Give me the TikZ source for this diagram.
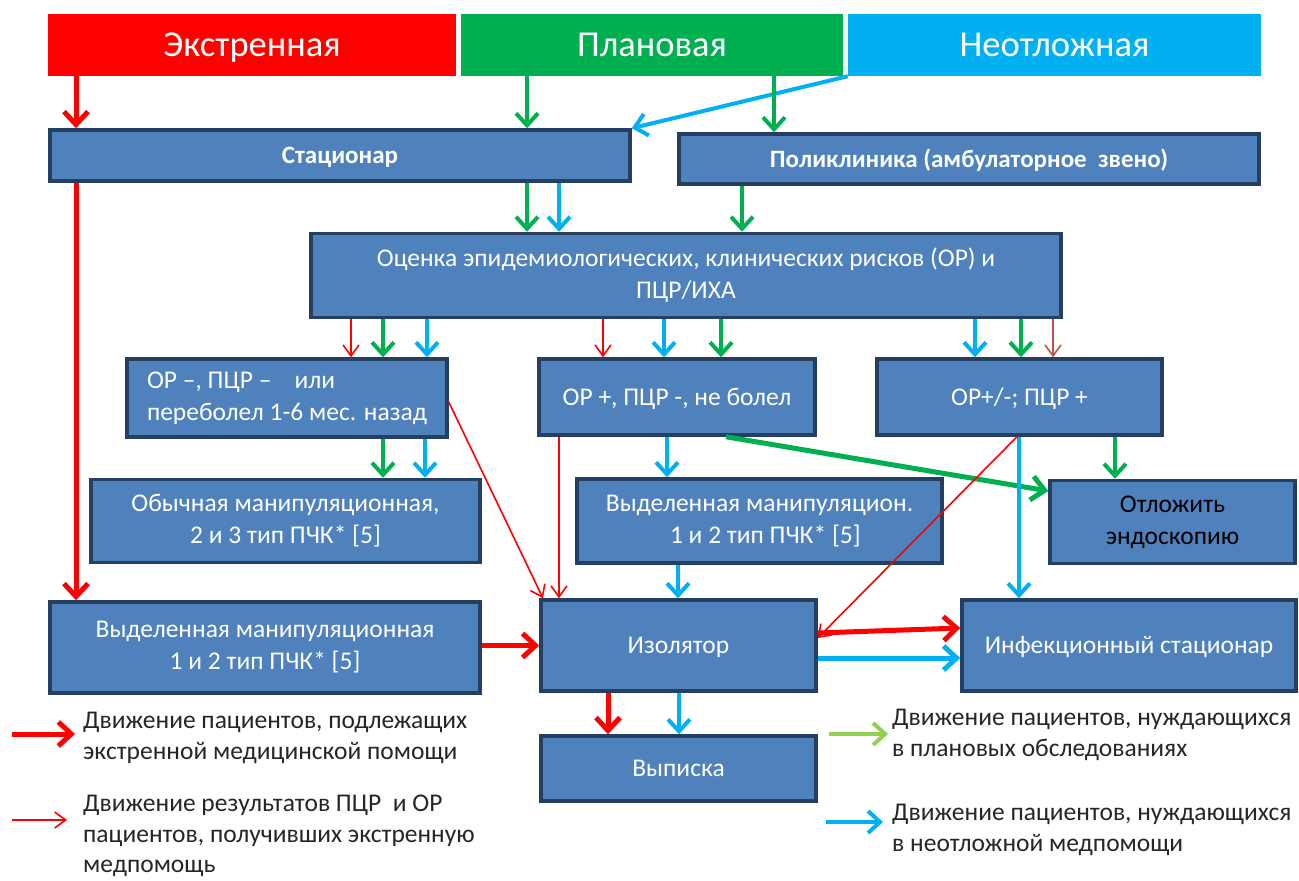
\documentclass[tikz,border=0pt]{standalone}
\usepackage{fontspec}
\setmainfont{Carlito}
\usetikzlibrary{arrows.meta}
\definecolor{cRed}{HTML}{FF0000}
\definecolor{cGreen}{HTML}{00B050}
\definecolor{cCyan}{HTML}{00B0F0}
\definecolor{cLGreen}{HTML}{92D050}
\definecolor{cBrown}{HTML}{C0504D}
\definecolor{boxFill}{HTML}{4F81BD}
\definecolor{boxLine}{HTML}{243F60}
\tikzset{
  hdr/.style={fill=#1, draw=none, text=white, inner sep=0pt, text height=23pt, text depth=0pt, font=\fontsize{36.5}{42}\selectfont},
  box/.style={fill=boxFill, draw=boxLine, line width=3.5pt, text=white, inner sep=2pt, align=center, font=\fontsize{25.5}{32}\selectfont},
  one/.style={text height=16pt, text depth=0pt},
  bbox/.style={box, one, font=\bfseries\fontsize{25}{30}\selectfont},
  legtext/.style={anchor=west, align=left, inner sep=0pt, text=black!85, font=\fontsize{25.5}{30.5}\selectfont},
  thk/.style={draw=#1, line width=5pt, -{Straight Barb[length=13pt,width=24pt]}},
  mid/.style={draw=#1, line width=4pt, -{Straight Barb[length=12pt,width=22pt]}},
  thn/.style={draw=#1, line width=1.6pt, -{Straight Barb[length=11pt,width=16pt]}},
}
\begin{document}
\begin{tikzpicture}[x=1pt,y=-1pt]
\useasboundingbox[fill=white] (0,0) rectangle (1299,881);
% headers
\node[hdr=cRed, minimum width=408, minimum height=62] (hE) at (252,45) {Экстренная};
\node[hdr=cGreen, minimum width=382, minimum height=62] (hP) at (652,45) {Плановая};
\node[hdr=cCyan, minimum width=413, minimum height=62] (hN) at (1054.5,45) {Неотложная};
% boxes
\node[bbox, minimum width=580, minimum height=51] (stac) at (340,155.5) {Стационар};
\node[bbox, minimum width=580, minimum height=50] (poli) at (969,159) {Поликлиника (амбулаторное\ \ звено)};
\node[box, minimum width=750, minimum height=84] (ocen) at (686,275.5) {Оценка эпидемиологических, клинических рисков (ОР) и\\ПЦР/ИХА};
\node[box, minimum width=320, minimum height=78, align=left] (orm) at (287,398) {ОР –, ПЦР –\ \ \ \ или\\переболел 1-6 мес. назад};
\node[box, one, minimum width=276, minimum height=76] (orp) at (677,397) {ОР +, ПЦР -, не болел};
\node[box, one, minimum width=285, minimum height=76] (orpm) at (1019.5,397) {ОР+/-; ПЦР +};
\node[box, minimum width=389, minimum height=83] (obych) at (285.5,521) {Обычная манипуляционная,\\2 и 3 тип ПЧК* [5]};
\node[box, minimum width=365, minimum height=84] (vydm) at (759.5,521) {Выделенная манипуляцион.\\\ \ 1 и 2 тип ПЧК* [5]};
\node[box, minimum width=245, minimum height=83, text=black] (otl) at (1172.5,522) {Отложить\\эндоскопию};
\node[box, minimum width=430, minimum height=91] (vydl) at (265,647.5) {Выделенная манипуляционная\\1 и 2 тип ПЧК* [5]};
\node[box, one, minimum width=275, minimum height=91] (izol) at (678.5,645.5) {Изолятор};
\node[box, one, minimum width=334, minimum height=91] (infe) at (1129,645.5) {Инфекционный стационар};
\node[box, one, minimum width=275, minimum height=65] (vyp) at (678.5,768.5) {Выписка};
% top connectors
\draw[thk=cRed] (76,0 |- hE.south) -- (76,0 |- stac.north);
\draw[mid=cGreen] (527,0 |- hP.south) -- (527,0 |- stac.north);
\draw[mid=cCyan] (hN.south west) -- (stac.north east);
\draw[mid=cGreen] (774,0 |- hP.south) -- (774,0 |- poli.north);
\draw[mid=cGreen] (527,0 |- stac.south) -- (527,0 |- ocen.north);
\draw[mid=cCyan] (559,0 |- stac.south) -- (559,0 |- ocen.north);
\draw[mid=cGreen] (742,0 |- poli.south) -- (742,0 |- ocen.north);
\draw[thk=cRed] (76,0 |- stac.south) -- (76,0 |- vydl.north);
% from ocen
\draw[thn=cRed] (351,0 |- ocen.south) -- (351,0 |- orm.north);
\draw[mid=cGreen] (383,0 |- ocen.south) -- (383,0 |- orm.north);
\draw[mid=cCyan] (427,0 |- ocen.south) -- (427,0 |- orm.north);
\draw[thn=cRed] (603,0 |- ocen.south) -- (603,0 |- orp.north);
\draw[mid=cCyan] (664,0 |- ocen.south) -- (664,0 |- orp.north);
\draw[mid=cGreen] (721,0 |- ocen.south) -- (721,0 |- orp.north);
\draw[mid=cCyan] (975,0 |- ocen.south) -- (975,0 |- orpm.north);
\draw[mid=cGreen] (1021,0 |- ocen.south) -- (1021,0 |- orpm.north);
\draw[thn=cBrown] (1053,0 |- ocen.south) -- (1053,0 |- orpm.north);
% from orm
\draw[mid=cGreen] (383,0 |- orm.south) -- (383,0 |- obych.north);
\draw[mid=cCyan] (425,0 |- orm.south) -- (425,0 |- obych.north);
\draw[thn=cRed] (orm.east |- 0,402) -- (543,0 |- izol.north);
% from orp
\draw[thn=cRed] (559,0 |- orp.south) -- (559,0 |- izol.north);
\draw[mid=cCyan] (667,0 |- orp.south) -- (667,0 |- vydm.north);
\draw[thk=cGreen] (726,0 |- orp.south) -- (otl.west |- 0,491);
% from orpm
\draw[mid=cGreen] (1115,0 |- orpm.south) -- (1115,0 |- otl.north);
\draw[mid=cCyan] (1019,0 |- orpm.south) -- (1019,0 |- infe.north);
\draw[thn=cRed] (1017,0 |- orpm.south) -- (izol.east |- 0,638);
% lower
\draw[mid=cCyan] (678,0 |- vydm.south) -- (678,0 |- izol.north);
\draw[thk=cRed] (vydl.east |- izol.west) -- (izol.west);
\draw[thk=cRed] (izol.east |- 0,633) -- (infe.west |- 0,628);
\draw[thk=cCyan] (izol.east |- 0,658) -- (infe.west |- 0,658);
\draw[thk=cRed] (608,0 |- izol.south) -- (608,0 |- vyp.north);
\draw[mid=cCyan] (679,0 |- izol.south) -- (679,0 |- vyp.north);
% legend
\node[legtext] (t1) at (83,738) {Движение пациентов, подлежащих\\экстренной медицинской помощи};
\node[legtext] (t2) at (83,836) {Движение результатов ПЦР\ \ и ОР\\пациентов, получивших экстренную\\медпомощь};
\node[legtext] (t3) at (892,735) {Движение пациентов, нуждающихся\\в плановых обследованиях};
\node[legtext] (t4) at (892,830) {Движение пациентов, нуждающихся\\в неотложной медпомощи};
\coordinate (l1) at (12,734);
\coordinate (l2) at (12,820);
\coordinate (l3) at (829,734);
\coordinate (l4) at (826,822);
\draw[thk=cRed] (l1) -- (75,0 |- l1);
\draw[thn=cRed] (l2) -- (67,0 |- l2);
\draw[mid=cLGreen] (l3) -- (888,0 |- l3);
\draw[mid=cCyan] (l4) -- (883,0 |- l4);
\end{tikzpicture}
\end{document}
